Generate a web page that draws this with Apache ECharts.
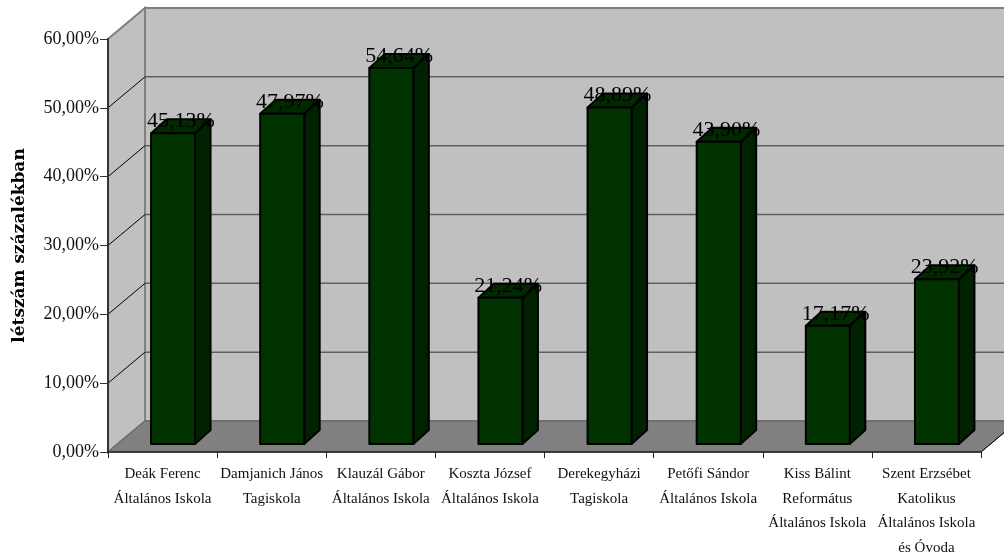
<!DOCTYPE html>
<html><head><meta charset="utf-8">
<style>html,body{margin:0;padding:0;background:#fff}#c{width:1004px;height:553px}</style>
<script src="https://cdn.jsdelivr.net/npm/echarts@6/dist/echarts.min.js"></script>
</head><body><div id="c"></div>
<script>
const categories = [
  "Deák Ferenc\nÁltalános Iskola",
  "Damjanich János\nTagiskola",
  "Klauzál Gábor\nÁltalános Iskola",
  "Koszta József\nÁltalános Iskola",
  "Derekegyházi\nTagiskola",
  "Petőfi Sándor\nÁltalános Iskola",
  "Kiss Bálint\nReformátus\nÁltalános Iskola",
  "Szent Erzsébet\nKatolikus\nÁltalános Iskola\nés Óvoda"
];
const values = [45.13, 47.97, 54.64, 21.24, 48.89, 43.90, 17.17, 23.92];
const yTicks = [0, 10, 20, 30, 40, 50, 60];
const axisName = "létszám százalékban";

const FONT = '"Liberation Serif","Times New Roman",serif';
const fmt = v => v.toFixed(2).replace('.', ',') + '%';
const DX = 37, DY = -31;          // wall depth
const barW = 44, offX = 10.5, offY = -8, depX = 15.5, depY = -14; // bar geometry

function renderWalls(params, api) {
  const cs = params.coordSys;
  const v = api.value(1);
  const y = api.coord([0, v])[1];
  const x0 = cs.x, x1 = cs.x + cs.width;
  const kids = [];
  if (v === 0) {
    const top = api.coord([0, 60])[1];
    kids.push(
      {type:'polygon', shape:{points:[[x0+DX,top+DY],[x1+DX,top+DY],[x1+DX,y+DY],[x0+DX,y+DY]]}, style:{fill:'#c0c0c0',stroke:'#808080',lineWidth:2}},
      {type:'polygon', shape:{points:[[x0,y],[x0,top],[x0+DX,top+DY],[x0+DX,y+DY]]}, style:{fill:'#c0c0c0',stroke:'#808080',lineWidth:2}},
      {type:'polygon', shape:{points:[[x0,y],[x1,y],[x1+DX,y+DY],[x0+DX,y+DY]]}, style:{fill:'#808080',stroke:'#606060',lineWidth:1}},
      {type:'line', shape:{x1:x1,y1:y,x2:x1+DX,y2:y+DY}, style:{stroke:'#000',lineWidth:1}}
    );
  } else if (v < 60) {
    kids.push(
      {type:'line', shape:{x1:x0,y1:y,x2:x0+DX,y2:y+DY}, style:{stroke:'#000',lineWidth:1}},
      {type:'line', shape:{x1:x0+DX,y1:y+DY,x2:x1+DX,y2:y+DY}, style:{stroke:'#606060',lineWidth:1.5}}
    );
  }
  return {type:'group', children:kids};
}

function renderBar(params, api) {
  const i = api.value(0), v = api.value(1);
  const top = api.coord([i, v]), base = api.coord([i, 0]);
  const l = top[0] + offX - barW/2, r = l + barW;
  const t = top[1] + offY, b = base[1] + offY;
  const s = {stroke:'#000', lineWidth:2, lineJoin:'round'};
  return {type:'group', children:[
    {type:'polygon', shape:{points:[[r,t],[r+depX,t+depY],[r+depX,b+depY],[r,b]]}, style:{fill:'#002200',...s}},
    {type:'polygon', shape:{points:[[l,t],[l+depX,t+depY],[r+depX,t+depY],[r,t]]}, style:{fill:'#002900',...s}},
    {type:'rect', shape:{x:l,y:t,width:barW,height:b-t}, style:{fill:'#003300',...s}},
    {type:'text', z2:10, style:{text:fmt(v), x:(l+r+depX)/2, y:t-1, align:'center', verticalAlign:'bottom', fill:'#000', font:'22px '+FONT}}
  ]};
}

const chart = echarts.init(document.getElementById('c'), null, {renderer:'canvas'});
chart.setOption({
  animation:false,
  backgroundColor:'#fff',
  grid:{left:108, top:39, width:873, height:413, outerBoundsMode:'none', containLabel:false},
  xAxis:{type:'category', data:categories, z:3,
    axisLine:{lineStyle:{color:'#222',width:1.5}},
    axisTick:{show:true, alignWithLabel:false, length:6, lineStyle:{color:'#222',width:1}},
    axisLabel:{interval:0, margin:10, fontFamily:FONT, fontSize:15, lineHeight:24.5, color:'#111', verticalAlign:'top'},
    splitLine:{show:false}},
  yAxis:{type:'value', min:0, max:60, interval:10, z:3,
    name:axisName, nameLocation:'middle', nameGap:80, nameRotate:90,
    nameTextStyle:{fontFamily:'"DejaVu Serif",serif', fontSize:17, fontWeight:'bold', color:'#000'},
    axisLine:{show:true, lineStyle:{color:'#333',width:2}},
    axisTick:{show:true, length:8, lineStyle:{color:'#333',width:1}},
    axisLabel:{margin:9, fontFamily:FONT, fontSize:18, color:'#111', formatter:v=>fmt(v)},
    splitLine:{show:false}},
  series:[
    {type:'custom', z:1, silent:true, renderItem:renderWalls, data:yTicks.map(t=>[0,t])},
    {type:'custom', z:4, renderItem:renderBar, data:values.map((v,i)=>[i,v])}
  ]
});
</script></body></html>
